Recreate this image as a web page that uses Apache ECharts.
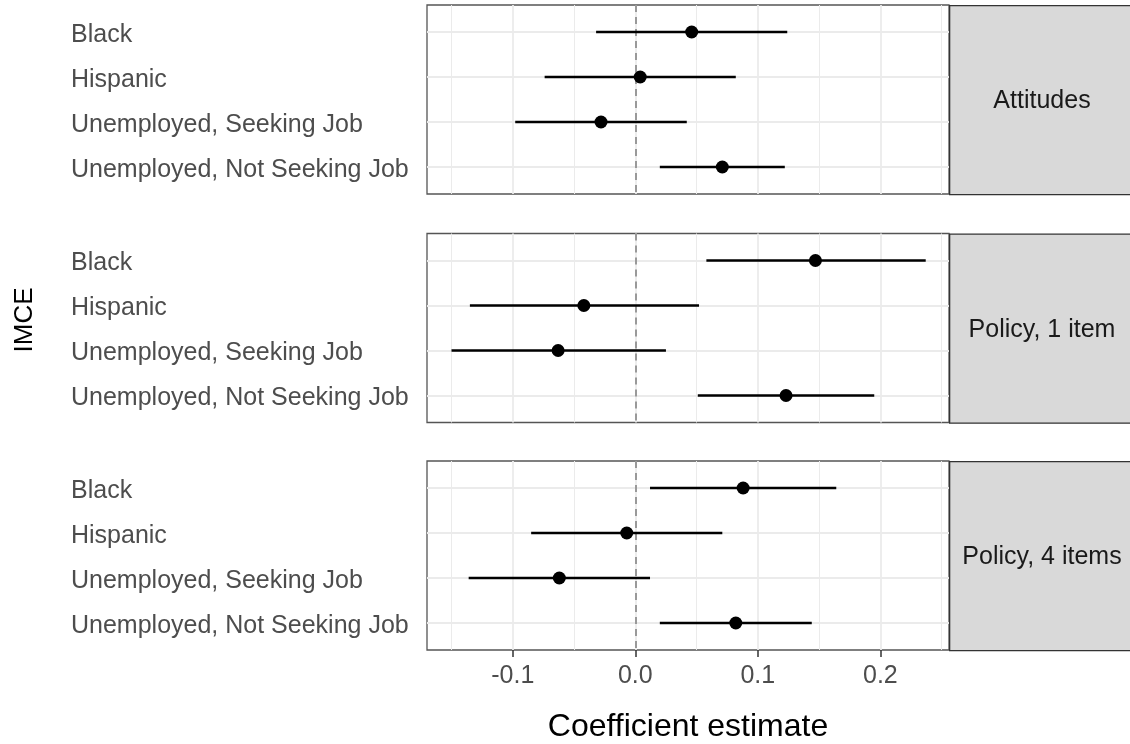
<!DOCTYPE html>
<html><head><meta charset="utf-8">
<script src="https://cdn.jsdelivr.net/npm/echarts@6/dist/echarts.min.js"></script>
<style>html,body{margin:0;padding:0;background:#fff}#c{width:1130px;height:744px}</style>
</head><body><div id="c"></div>
<script>
// ---- data ----
const categories = ['Black', 'Hispanic', 'Unemployed, Seeking Job', 'Unemployed, Not Seeking Job'];
const panelNames = ['Attitudes', 'Policy, 1 item', 'Policy, 4 items'];
const estAttitudes = [0.046, 0.004, -0.028, 0.071];
const loAttitudes  = [-0.032, -0.074, -0.098, 0.020];
const hiAttitudes  = [0.124, 0.082, 0.042, 0.122];
const estPolicy1 = [0.147, -0.042, -0.063, 0.123];
const loPolicy1  = [0.058, -0.135, -0.150, 0.051];
const hiPolicy1  = [0.237, 0.052, 0.025, 0.195];
const estPolicy4 = [0.088, -0.007, -0.062, 0.082];
const loPolicy4  = [0.012, -0.085, -0.136, 0.020];
const hiPolicy4  = [0.164, 0.071, 0.012, 0.144];
const xTicks = [-0.1, 0.0, 0.1, 0.2];
const xMinor = [-0.15, -0.05, 0.05, 0.15, 0.25];
const xMin = -0.17, xMax = 0.256;
const rowPos = [1, 2, 3, 4];

// ---- layout ----
const FONT = "'Liberation Sans', Arial, sans-serif";
const tops = [5, 233.5, 461];
const panelH = 189;
const gridLeft = 427, gridRight = 181;
const est = [estAttitudes, estPolicy1, estPolicy4];
const lo = [loAttitudes, loPolicy1, loPolicy4];
const hi = [hiAttitudes, hiPolicy1, hiPolicy4];

const grid = [], xAxis = [], yAxis = [], series = [], graphic = [];
for (let i = 0; i < 3; i++) {
  grid.push({left: gridLeft, right: gridRight, top: tops[i], height: panelH,
    show: true, backgroundColor: '#fff', borderColor: '#555', borderWidth: 1.3});
  const last = i === 2;
  xAxis.push({type: 'value', gridIndex: i, min: xMin, max: xMax,
    axisLine: {show: false}, splitLine: {show: false},
    axisTick: {show: last, customValues: xTicks, length: 7, lineStyle: {color: '#333', width: 1.5}},
    axisLabel: {show: last, customValues: xTicks, formatter: v => Number(v).toFixed(1),
      fontSize: 25, color: '#4D4D4D', margin: 14, fontFamily: FONT},
    name: last ? 'Coefficient estimate' : '', nameLocation: 'middle', nameGap: 61,
    nameTextStyle: {fontSize: 32, color: '#000', fontFamily: FONT}});
  yAxis.push({type: 'value', gridIndex: i, inverse: true, min: 0.4, max: 4.6,
    axisLine: {show: false}, splitLine: {show: false},
    axisTick: {show: true, customValues: rowPos, length: 7, lineStyle: {color: '#333', width: 1.5}},
    axisLabel: {customValues: rowPos, formatter: v => '{a|' + categories[Math.round(v) - 1] + '}',
      align: 'left', margin: 356,
      rich: {a: {fontSize: 25, color: '#4D4D4D', fontFamily: FONT, padding: [6, 0, 0, 0]}}}});

  const gl = [];
  xMinor.forEach(v => gl.push({xAxis: v, lineStyle: {color: '#EBEBEB', width: 1, type: 'solid'}}));
  xTicks.forEach(v => gl.push({xAxis: v, lineStyle: {color: '#EBEBEB', width: 1.8, type: 'solid'}}));
  rowPos.forEach(v => gl.push({yAxis: v, lineStyle: {color: '#EBEBEB', width: 1.8, type: 'solid'}}));
  series.push({type: 'line', xAxisIndex: i, yAxisIndex: i, data: [], symbol: 'none', z: 1,
    markLine: {z: 1, silent: true, symbol: ['none', 'none'], label: {show: false}, animation: false, data: gl}});
  series.push({type: 'line', xAxisIndex: i, yAxisIndex: i, data: [], symbol: 'none', z: 2,
    markLine: {z: 2, silent: true, symbol: ['none', 'none'], label: {show: false}, animation: false,
      data: [{xAxis: 0, lineStyle: {color: '#999', width: 2, type: [7, 5]}}]}});

  series.push({type: 'custom', xAxisIndex: i, yAxisIndex: i, z: 3,
    data: rowPos.map((r, k) => [lo[i][k], hi[i][k], r]),
    encode: {x: [0, 1], y: 2},
    renderItem: (params, api) => {
      const a = api.coord([api.value(0), api.value(2)]);
      const b = api.coord([api.value(1), api.value(2)]);
      return {type: 'line', shape: {x1: a[0], y1: a[1], x2: b[0], y2: b[1]},
        style: {stroke: '#000', lineWidth: 2.5}};
    }});
  series.push({type: 'scatter', xAxisIndex: i, yAxisIndex: i, z: 4,
    data: rowPos.map((r, k) => [est[i][k], r]), symbol: 'circle', symbolSize: 13,
    itemStyle: {color: '#000', opacity: 1}});

  graphic.push({type: 'rect', left: 949, top: tops[i], z: 10,
    shape: {width: 190, height: panelH},
    style: {fill: '#D9D9D9', stroke: '#333', lineWidth: 1.3}});
  graphic.push({type: 'text', x: 1042, y: tops[i] + panelH / 2 + 2, z: 11,
    style: {text: panelNames[i], align: 'center', verticalAlign: 'middle',
      font: '25px ' + FONT, fill: '#1A1A1A'}});
}
graphic.push({type: 'text', x: 25, y: 320, rotation: Math.PI / 2, z: 11,
  style: {text: 'IMCE', align: 'center', verticalAlign: 'middle', font: '26px ' + FONT, fill: '#000'}});

const chart = echarts.init(document.getElementById('c'), null, {renderer: 'canvas'});
chart.setOption({animation: false, backgroundColor: '#fff', grid, xAxis, yAxis, series, graphic});
</script></body></html>
